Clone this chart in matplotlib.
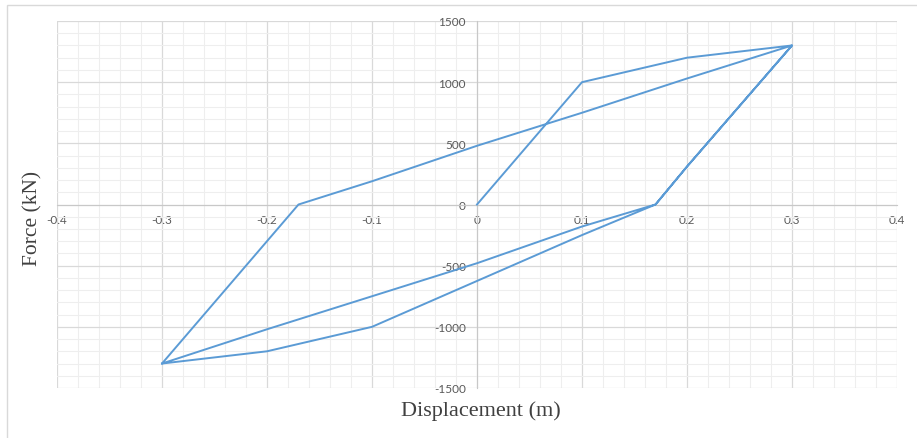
import matplotlib.pyplot as plt
from matplotlib.patches import Rectangle
from matplotlib.ticker import MultipleLocator

plt.rcParams['axes.unicode_minus'] = False

# hysteresis loop
disp = [0, 0.1, 0.2, 0.3, 0.2, 0.17, 0.1, 0, -0.1, -0.2, -0.3,
        -0.2, -0.17, -0.1, 0, 0.1, 0.2, 0.3,
        0.2, 0.17, 0.1, 0, -0.1, -0.2, -0.3]
force = [0, 1000, 1200, 1300, 310, 0, -250, -625, -1000, -1200, -1300,
         -300, 0, 190, 480, 750, 1030, 1300,
         310, 0, -180, -480, -750, -1020, -1300]

fig = plt.figure(figsize=(9.17, 4.39), dpi=100)
ax = fig.add_axes([57/917, 1-389/439, 840/917, 367/439])

# chart border like the excel chart area
fig.patches.append(Rectangle((7/917, -0.05), 1.0, 1-6/439+0.05, transform=fig.transFigure,
                             fill=False, edgecolor='#d9d9d9', lw=1.0))

ax.plot(disp, force, color='#5B9BD5', lw=1.4, zorder=3)

ax.set_xlim(-0.4, 0.4)
ax.set_ylim(-1500, 1500)
ax.xaxis.set_major_locator(MultipleLocator(0.1))
ax.xaxis.set_minor_locator(MultipleLocator(0.02))
ax.yaxis.set_major_locator(MultipleLocator(500))
ax.yaxis.set_minor_locator(MultipleLocator(100))
ax.grid(which='major', color='#d9d9d9', lw=0.9)
ax.grid(which='minor', color='#eeeeee', lw=0.8)
ax.set_axisbelow(True)

for s in ['top', 'right']:
    ax.spines[s].set_visible(False)
ax.spines['left'].set_position('zero')
ax.spines['bottom'].set_position('zero')
ax.spines['left'].set_color('#c8c8c8')
ax.spines['bottom'].set_color('#c8c8c8')

ax.xaxis.set_major_formatter(plt.FuncFormatter(lambda v, p: '0' if abs(v) < 1e-9 else f'{v:g}'))
ax.tick_params(which='both', length=0, labelsize=8.5, labelcolor='#595959')
ax.tick_params(axis='y', pad=8)
ax.tick_params(axis='x', pad=7)
for lab in ax.get_xticklabels() + ax.get_yticklabels():
    lab.set_fontfamily(['Lato', 'DejaVu Sans'])

fig.text(33/917, 1-218/439, 'Force (kN)', rotation=90, ha='center', va='center',
         fontsize=15.5, family='Liberation Serif', color='#404040')
fig.text(481/917, 1-411/439, 'Displacement (m)', ha='center', va='center',
         fontsize=16, family='Liberation Serif', color='#404040')

plt.savefig('out.png', dpi=100)
